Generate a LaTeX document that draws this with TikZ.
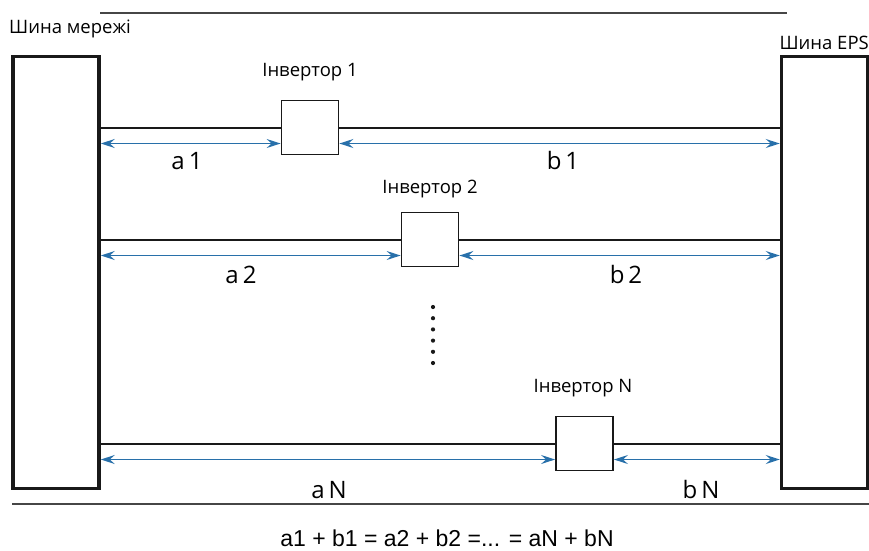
\documentclass[tikz,border=0pt]{standalone}
\usepackage{fontspec}
\setmainfont{Open Sans}
\newfontfamily\eqfont{Liberation Sans}
\usetikzlibrary{arrows.meta}
\definecolor{arrowblue}{RGB}{40,112,170}
\definecolor{rulegray}{RGB}{70,70,70}
\begin{document}
\begin{tikzpicture}[x=1pt,y=-1pt,
  bus/.style={draw=black!90, line width=3.5pt, minimum width=86pt, minimum height=432pt, inner sep=0pt},
  invbox/.style={draw=black!90, line width=1.8pt, minimum width=57pt, minimum height=54pt, inner sep=0pt},
  wire/.style={black!90, line width=2pt},
  tipa/.tip={Stealth[length=14pt,width=9pt,inset=5pt]},
  dim/.style={arrowblue, line width=1.4pt, tipa-tipa},
  lbl/.style={font=\fontsize{18.5}{22}\selectfont, inner sep=0pt},
  dimlbl/.style={font=\fontsize{24}{28}\selectfont, inner sep=0pt, anchor=base},
  rule/.style={rulegray, line width=1.2pt}]
\useasboundingbox (0,0) rectangle (869,550);
\draw[rule] (100,13) -- (787,13);
\draw[rule] (12,504) -- (869,504);

\node[bus] (lbus) at (56,272.5) {};
\node[bus] (rbus) at (824.5,272.5) {};
\node[lbl, anchor=west] (lname) at (9,29) {Шина мережі};
\node[lbl, anchor=east] (rname) at (869,43) {Шина EPS};

\node[invbox] (inv1) at (310,127.5) {};
\node[invbox] (inv2) at (430,239.5) {};
\node[invbox] (invN) at (584.5,443.5) {};

\node[lbl] (l1) at (310,72) {Інвертор 1};
\node[lbl] (l2) at (430,189) {Інвертор 2};
\node[lbl] (lN) at (583,388) {Інвертор N};

\foreach \i in {1,2,N}{
  \draw[wire] (inv\i.west -| lbus.east) -- (inv\i.west);
  \draw[wire] (inv\i.east) -- (inv\i.east -| rbus.west);
  \draw[dim] ([yshift=-16pt]inv\i.west -| lbus.east) -- ([yshift=-16pt]inv\i.west);
  \draw[dim] ([yshift=-16pt]inv\i.east) -- ([yshift=-16pt]inv\i.east -| rbus.west);
}

\node[dimlbl] (a1) at (187,169) {a\,1};
\node[dimlbl] (b1) at (563,169) {b\,1};
\node[dimlbl] (a2) at (241,283) {a\,2};
\node[dimlbl] (b2) at (626,283) {b\,2};
\node[dimlbl] (aN) at (329,498) {a\,N};
\node[dimlbl] (bN) at (701,498) {b\,N};

\foreach \y in {307,318.2,329.4,340.6,351.8,363}
  \fill[black!90] (433,\y) circle (2.1pt);

\node[font=\eqfont\fontsize{23}{26}\selectfont, inner sep=0pt, anchor=base] (eq) at (447,546) {a1 + b1 = a2 + b2 =... = aN + bN};
\end{tikzpicture}
\end{document}
